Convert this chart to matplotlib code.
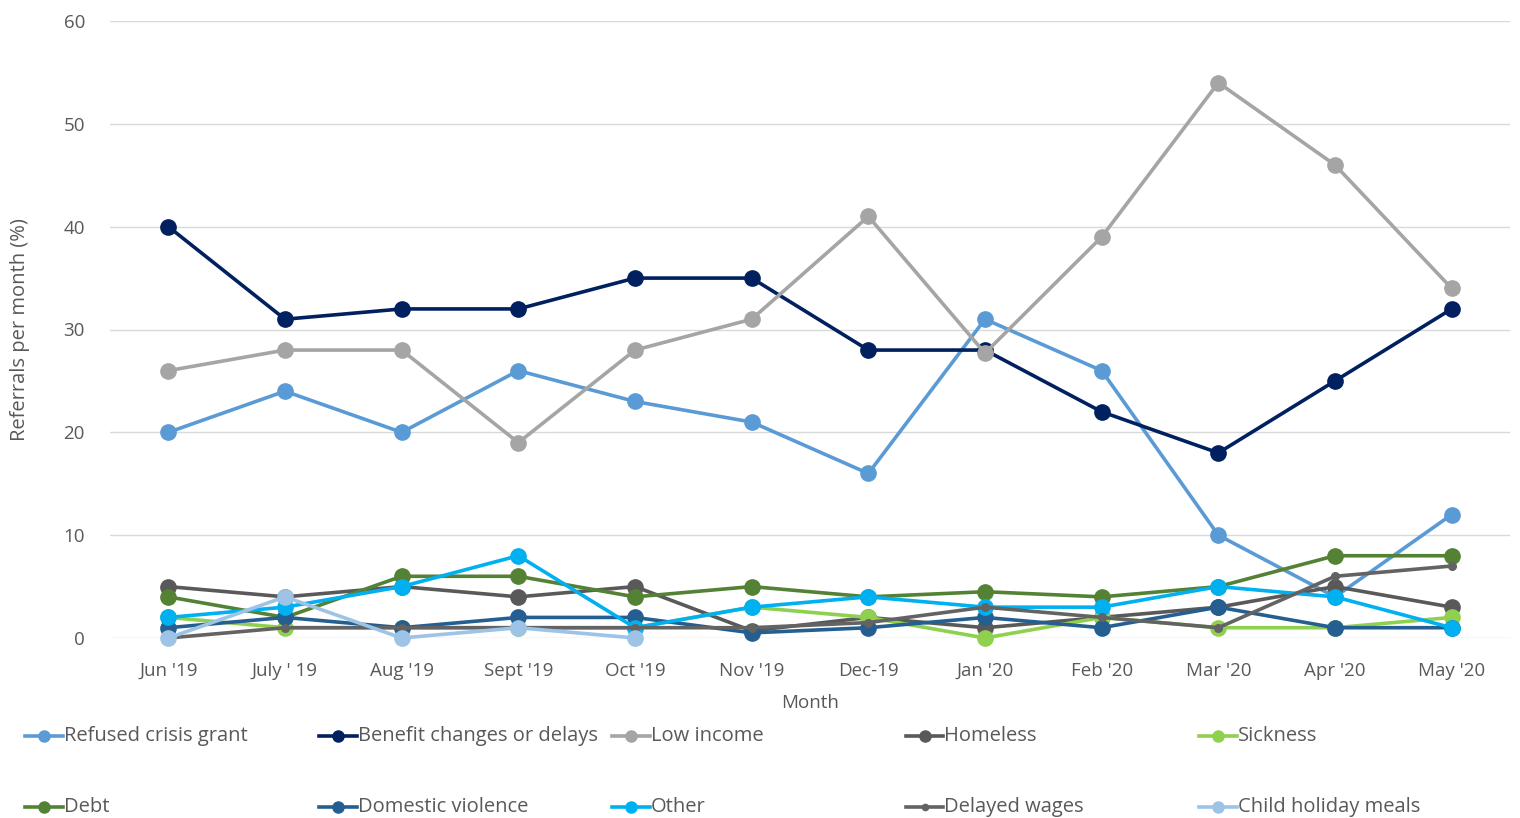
import numpy as np
import matplotlib.pyplot as plt
from matplotlib.lines import Line2D

# =============================================================================
# DATI
# =============================================================================
months = ["Jun '19", "July ' 19", "Aug '19", "Sept '19", "Oct '19", "Nov '19",
          "Dec-19", "Jan '20", "Feb '20", "Mar '20", "Apr '20", "May '20"]

refused_crisis_grant = [20, 24, 20, 26, 23, 21, 16, 31, 26, 10, 4, 12]
benefit_changes = [40, 31, 32, 32, 35, 35, 28, 28, 22, 18, 25, 32]
low_income = [26, 28, 28, 19, 28, 31, 41, 27.7, 39, 54, 46, 34]
homeless = [5, 4, 5, 4, 5, 0.7, 2, 1, 2, 3, 5, 3]
sickness = [2, 1, 1, 1, 1, 3, 2, 0, 2, 1, 1, 2]
debt = [4, 2, 6, 6, 4, 5, 4, 4.5, 4, 5, 8, 8]
domestic_violence = [1, 2, 1, 2, 2, 0.5, 1, 2, 1, 3, 1, 1]
other = [2, 3, 5, 8, 1, 3, 4, 3, 3, 5, 4, 1]
delayed_wages = [0, 1, 1, 1, 1, 1, 1.5, 3, 2, 1, 6, 7]
child_holiday_meals = [0, 4, 0, 1, 0, np.nan, np.nan, np.nan, np.nan, np.nan, np.nan, np.nan]

series = [
    ("Refused crisis grant", refused_crisis_grant, "#5B9BD5", 11),
    ("Benefit changes or delays", benefit_changes, "#002060", 11),
    ("Low income", low_income, "#A5A5A5", 11),
    ("Homeless", homeless, "#595959", 11),
    ("Sickness", sickness, "#8FD14F", 11),
    ("Debt", debt, "#548235", 11),
    ("Domestic violence", domestic_violence, "#255E91", 11),
    ("Other", other, "#00B0F0", 11),
    ("Delayed wages", delayed_wages, "#636363", 5.5),
    ("Child holiday meals", child_holiday_meals, "#9DC3E6", 11),
]

# =============================================================================
# GRAFICO
# =============================================================================
plt.rcParams['font.family'] = ['Open Sans', 'DejaVu Sans']
text_col = "#595959"

fig = plt.figure(figsize=(15.2, 8.18), dpi=100)
ax = fig.add_axes([110 / 1520, 1 - 638 / 818, 1400 / 1520, 617 / 818])

x = np.arange(len(months))
for i, (name, vals, col, ms) in enumerate(series):
    ax.plot(x, vals, color=col, lw=2.6, marker='o', ms=ms, zorder=3 + i, clip_on=False)

ax.set_xlim(-0.5, len(months) - 0.5)
ax.set_ylim(0, 60)
ax.set_yticks(np.arange(0, 61, 10))
ax.set_xticks(x)
ax.set_xticklabels(months)
ax.grid(axis='y', color='#D9D9D9', lw=1)
ax.set_axisbelow(True)
for s in ax.spines.values():
    s.set_visible(False)
ax.tick_params(axis='both', length=0, labelsize=13.5, labelcolor=text_col)
ax.tick_params(axis='y', pad=18)
ax.tick_params(axis='x', pad=17)
ax.set_xlabel("Month", fontsize=13.5, color=text_col, labelpad=10)
ax.set_ylabel("Referrals per month (%)", fontsize=14.5, color=text_col,
              family=['Liberation Sans Narrow', 'Open Sans', 'DejaVu Sans'])
ax.yaxis.set_label_coords(-0.057, 0.5)

# Legenda manuale a colonne uguali (stile Excel)
col_w = 293.5
fx = lambda px: px / 1520
fy = lambda py: 1 - py / 818
for i, (name, vals, col, ms) in enumerate(series):
    c, r = i % 5, i // 5
    x0 = 25 + c * col_w
    y0 = 736 + r * 71
    fig.add_artist(Line2D([fx(x0), fx(x0 + 38)], [fy(y0), fy(y0)], color=col, lw=2.6,
                          transform=fig.transFigure))
    fig.add_artist(Line2D([fx(x0 + 19)], [fy(y0)], color=col, marker='o',
                          ms=8 if ms > 6 else 4.5, transform=fig.transFigure))
    fig.text(fx(x0 + 39), fy(y0), name, fontsize=14.5, color=text_col,
             va='center', ha='left', family=['Liberation Sans Narrow', 'Open Sans', 'DejaVu Sans'])

fig.savefig("out.png", dpi=100)
